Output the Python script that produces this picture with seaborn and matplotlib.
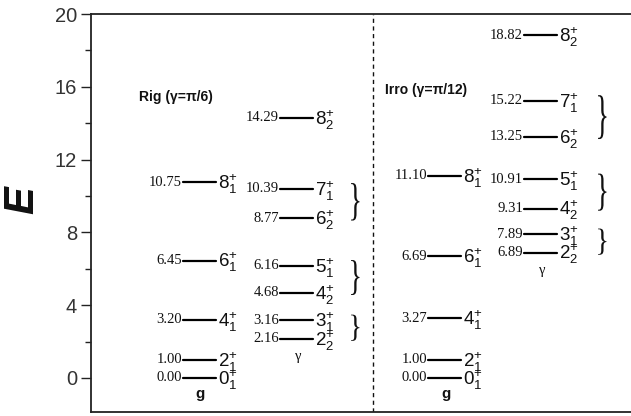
import numpy as np
import pandas as pd
import matplotlib
matplotlib.use("Agg")
import matplotlib.pyplot as plt
from matplotlib.ticker import MultipleLocator
from matplotlib.textpath import TextPath
from matplotlib.font_manager import FontProperties
from matplotlib.patches import PathPatch
from matplotlib.transforms import Affine2D
import seaborn as sns

# ---------------- data ----------------
rig_g_E = [0.00, 1.00, 3.20, 6.45, 10.75]
rig_g_lab = ["0_1", "2_1", "4_1", "6_1", "8_1"]
rig_gam_E = [2.16, 3.16, 4.68, 6.16, 8.77, 10.39, 14.29]
rig_gam_lab = ["2_2", "3_1", "4_2", "5_1", "6_2", "7_1", "8_2"]
irro_g_E = [0.00, 1.00, 3.27, 6.69, 11.10]
irro_g_lab = ["0_1", "2_1", "4_1", "6_1", "8_1"]
irro_gam_E = [6.89, 7.89, 9.31, 10.91, 13.25, 15.22, 18.82]
irro_gam_lab = ["2_2", "3_1", "4_2", "5_1", "6_2", "7_1", "8_2"]
panel_titles = ["Rig (γ=π/6)", "Irro (γ=π/12)"]
band_names = ["g", "γ"]
brace_pairs = [(0, 1), (2, 3), (4, 5)]
y_major = [0, 4, 8, 12, 16, 20]

# ---------------- layout ----------------
W, H, DPI = 631, 416, 100
sns.set_style("ticks")
plt.rcParams["font.family"] = ["Liberation Sans", "DejaVu Sans"]
plt.rcParams["mathtext.fontset"] = "custom"
plt.rcParams["mathtext.rm"] = "Liberation Sans"
plt.rcParams["mathtext.it"] = "Liberation Sans:italic"
plt.rcParams["mathtext.bf"] = "Liberation Sans:bold"

fig = plt.figure(figsize=(W / DPI, H / DPI), dpi=DPI)
ax = fig.add_axes([91 / W, 1 - 412 / H, 1 - 91 / W, (412 - 14) / H])
ax.set_xlim(0, 540)
ax.set_ylim(-1.87, 20)

line_w = 33
columns = [
    (rig_g_E, rig_g_lab, 92, band_names[0]),
    (rig_gam_E, rig_gam_lab, 189, band_names[1]),
    (irro_g_E, irro_g_lab, 337, band_names[0]),
    (irro_gam_E, irro_gam_lab, 433, band_names[1]),
]

rows = []
lid = 0
for E_list, labs, x0, band in columns:
    for e in E_list:
        rows.append({"id": lid, "x": x0, "E": e})
        rows.append({"id": lid, "x": x0 + line_w, "E": e})
        lid += 1
df = pd.DataFrame(rows)

sns.lineplot(data=df, x="x", y="E", units="id", estimator=None, sort=False,
             color="black", lw=1.6, ax=ax, legend=False)

serif = ["Liberation Serif", "DejaVu Serif"]
for E_list, labs, x0, band in columns:
    for e, lab in zip(E_list, labs):
        ax.annotate(f"{e:.2f}", xy=(x0, e), xytext=(-1, 0), textcoords="offset pixels",
                    ha="right", va="center", fontsize=10.5, family=serif, color="#111")
        n, s = lab.split("_")
        ax.annotate(f"${n}_{{{s}}}^{{+}}$", xy=(x0 + line_w, e), xytext=(2, -2),
                    textcoords="offset pixels", ha="left", va="center",
                    fontsize=13.5, color="#111")

# band labels
for E_list, labs, x0, band in columns:
    if band == "g":
        ax.annotate(band, xy=(x0 + line_w / 2 + 1, min(E_list)), xytext=(0, -16),
                    textcoords="offset pixels", ha="center", va="center",
                    fontsize=11, fontweight="bold", color="#111")
    else:
        ax.annotate(band, xy=(x0 + line_w / 2 + 2, min(E_list)), xytext=(0, -18),
                    textcoords="offset pixels", ha="center", va="center",
                    fontsize=10.5, family=serif, color="#111")

# braces (glyph path stretched to span each doublet)
px_per_unit = ax.transData.transform((0, 1))[1] - ax.transData.transform((0, 0))[1]
brace_path = TextPath((0, 0), "}", size=1, prop=FontProperties(family="Liberation Serif"))
bv = brace_path.vertices
bx0, bx1 = bv[:, 0].min(), bv[:, 0].max()
by0, by1 = bv[:, 1].min(), bv[:, 1].max()
for E_list, x_b in [(rig_gam_E, 354), (irro_gam_E, 601)]:
    for i, j in brace_pairs:
        lo, hi = E_list[i], E_list[j]
        h_units = ((hi - lo) * px_per_unit + 8) / px_per_unit
        w_units = 11
        yc = (lo + hi) / 2 + 0.1
        tr = (Affine2D()
              .translate(-(bx0 + bx1) / 2, -(by0 + by1) / 2)
              .scale(w_units / (bx1 - bx0), h_units / (by1 - by0))
              .translate(x_b - 91, yc))
        ax.add_patch(PathPatch(tr.transform_path(brace_path), facecolor="#111",
                               edgecolor="none", transform=ax.transData))

# panel titles
ax.text(48, 15.44, panel_titles[0], fontsize=10, fontweight="bold",
        ha="left", va="center", color="#111")
ax.text(294, 15.82, panel_titles[1], fontsize=10, fontweight="bold",
        ha="left", va="center", color="#111")

# divider
ax.axvline(282, color="#111", lw=1.0, ls=(0, (3, 2.5)))

# axes styling
ax.set_xlabel("")
ax.set_ylabel("")
ax.set_xticks([])
ax.set_yticks(y_major)
ax.yaxis.set_minor_locator(MultipleLocator(2))
ax.tick_params(axis="y", which="major", length=7, width=1.0, pad=3,
               labelsize=14.5, colors="#222", labelcolor="#333")
ax.tick_params(axis="y", which="minor", length=4, width=1.0, colors="#222")
for side in ["left", "top", "bottom"]:
    ax.spines[side].set_linewidth(1.3)
    ax.spines[side].set_color("#222")
ax.spines["right"].set_visible(False)

fig.text(22 / W, 1 - 200 / H, "E", rotation=90, ha="center", va="center",
         fontsize=30, fontweight="bold", fontstyle="italic", color="#111")

fig.savefig("out.png", dpi=DPI)
